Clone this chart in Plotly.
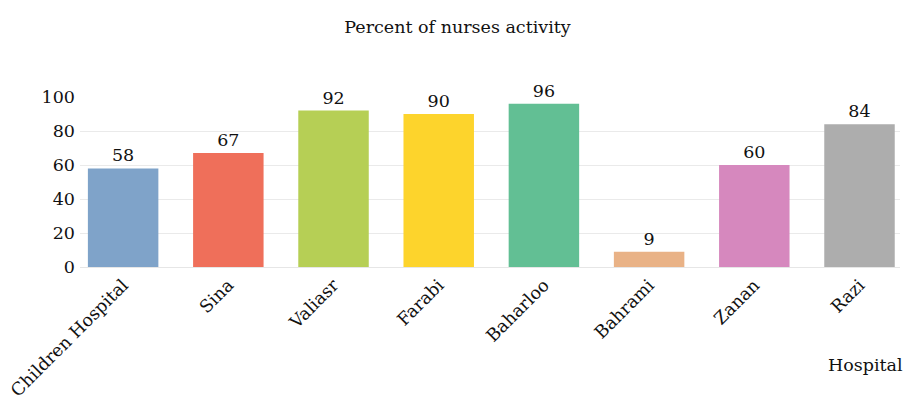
import plotly.graph_objects as go

hospitals = ["Children Hospital", "Sina", "Valiasr", "Farabi", "Baharloo", "Bahrami", "Zanan", "Razi"]
activity = [58, 67, 92, 90, 96, 9, 60, 84]
colors = ["#7FA3C9", "#EF6F5A", "#B6CF55", "#FDD42C", "#62BF94", "#E9B286", "#D688BE", "#ADADAD"]
y_ticks = [0, 20, 40, 60, 80, 100]

FONT = "DejaVu Serif"
FS = 17.5

fig = go.Figure(go.Bar(
    x=hospitals, y=activity, marker=dict(color=colors, line=dict(width=0)),
    width=0.67, text=[str(v) for v in activity], textposition="outside",
    textfont=dict(family=FONT, size=FS, color="#111"), cliponaxis=False,
))

fig.update_layout(
    width=906, height=399, margin=dict(l=80, r=6, t=97, b=132),
    paper_bgcolor="white", plot_bgcolor="white", showlegend=False,
    font=dict(family=FONT, size=FS, color="#111"),
    title=dict(text="Percent of nurses activity", x=0.505, xanchor="center",
               y=1 - 27 / 399, yanchor="middle", font=dict(family=FONT, size=FS, color="#111")),
    xaxis=dict(range=[-0.41, 7.385], tickangle=-45, showgrid=False, showline=True,
               linecolor="#E6E6E6", linewidth=1, ticks="", tickfont=dict(size=FS),
               automargin=False),
    yaxis=dict(range=[0, 100], tickvals=y_ticks, showgrid=True, gridcolor="#EAEAEA",
               zeroline=False, showline=False, ticks="", tickfont=dict(size=FS),
               ticklabelstandoff=4, automargin=False),
    annotations=[dict(text="Hospital", xref="paper", yref="paper", x=1.006, y=-0.576,
                      xanchor="right", yanchor="middle", showarrow=False,
                      font=dict(family=FONT, size=FS, color="#111"))],
)

fig.write_html("out.html")
